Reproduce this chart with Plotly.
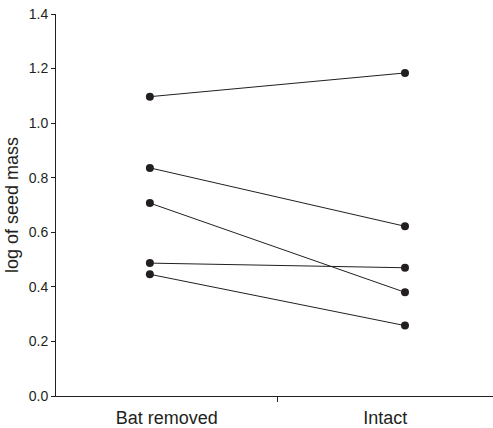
import plotly.graph_objects as go

categories = ["Bat removed", "Intact"]
bat_removed = [1.097, 0.836, 0.707, 0.487, 0.446]
intact = [1.184, 0.622, 0.380, 0.470, 0.258]
y_ticks = [0.0, 0.2, 0.4, 0.6, 0.8, 1.0, 1.2, 1.4]

INK = "#231f20"
FONT = "Liberation Sans, Arial, sans-serif"

X_RANGE = [0.632, 2.345]
DIVIDER = 1.5
# category labels centred in each band of the axis
label_pos = [(X_RANGE[0] + DIVIDER) / 2, (DIVIDER + X_RANGE[1]) / 2]

fig = go.Figure()
for a, b in zip(bat_removed, intact):
    fig.add_trace(go.Scatter(
        x=[1, 2], y=[a, b], mode="lines+markers",
        line=dict(color=INK, width=1),
        marker=dict(color=INK, size=8),
        showlegend=False, hoverinfo="skip"))

# invisible trace on secondary x axis for category labels
fig.add_trace(go.Scatter(x=label_pos, y=[None, None], xaxis="x2", showlegend=False))

fig.update_layout(
    width=493, height=428,
    margin=dict(l=56, r=0, t=14, b=32),
    paper_bgcolor="white", plot_bgcolor="white",
    font=dict(family=FONT, color=INK),
    xaxis=dict(range=X_RANGE, tickvals=[DIVIDER], ticktext=[""],
               ticks="outside", ticklen=5, tickcolor=INK, tickwidth=1,
               showline=True, linecolor=INK, linewidth=1,
               showgrid=False, zeroline=False, automargin=False),
    xaxis2=dict(range=X_RANGE, overlaying="x", side="bottom",
                tickvals=label_pos, ticktext=categories, ticks="",
                showline=False, showgrid=False, zeroline=False,
                automargin=False, ticklabelstandoff=9,
                tickfont=dict(size=18, family=FONT, color=INK)),
    yaxis=dict(range=[0, 1.4], tickvals=y_ticks,
               ticktext=[f"{v:.1f}" for v in y_ticks],
               ticks="outside", ticklen=4, tickcolor=INK, tickwidth=1,
               showline=True, linecolor=INK, linewidth=1,
               showgrid=False, zeroline=False, automargin=False,
               tickfont=dict(size=14, family=FONT, color=INK),
               title=dict(text="log of seed mass", standoff=5,
                          font=dict(size=18, family=FONT, color=INK))),
)

fig.write_html("out.html", config={"displayModeBar": False},
               post_script="document.body.style.margin='0';document.body.style.padding='0';")
